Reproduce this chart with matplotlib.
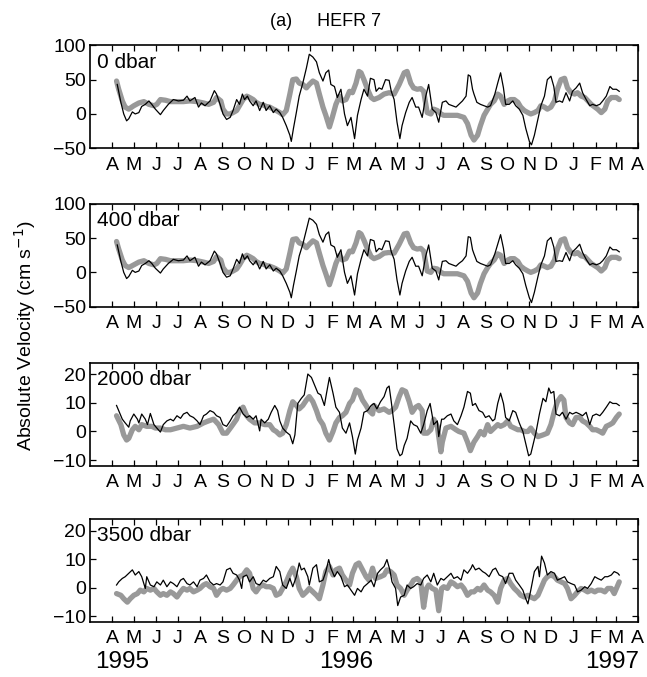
import matplotlib
matplotlib.use('Agg')
import matplotlib.pyplot as plt
import matplotlib.transforms as mtransforms
import numpy as np
import pandas as pd

plt.rcParams['font.family'] = ['Liberation Sans', 'DejaVu Sans']

# time origin of the record, samples given as (day since start, cm/s)
start = pd.Timestamp('1995-04-01')

black_0 = [(7, 43), (12, 17), (16, 0), (20, -10), (23, -7), (28, 3), (32, 0), (37, 2), (41, 11), (46, 14),
           (51, 19), (55, 14), (60, 7), (67, -1), (71, 5), (78, 14), (85, 21), (92, 19), (99, 20), (104, 26),
           (108, 19), (115, 24), (120, 10), (124, 16), (129, 12), (136, 19), (142, 34), (145, 29), (150, 14),
           (154, 0), (159, -8), (164, -5), (168, 5), (173, 21), (177, 14), (181, 29), (184, 21), (188, 26),
           (191, 19), (196, 12), (200, 19), (205, 5), (210, 17), (214, 5), (219, 12), (224, 2), (228, 7),
           (233, 2), (237, -5), (242, -17), (247, -31), (249, -40), (252, -21), (256, 2), (260, 26), (265, 45),
           (270, 67), (274, 87), (279, 83), (284, 76), (288, 60), (293, 48), (297, 60), (301, 64), (304, 43),
           (309, 40), (313, 24), (318, 36), (323, 0), (327, -17), (332, -5), (337, -36), (341, -2), (346, 21),
           (350, 36), (355, 26), (359, 52), (364, 50), (367, 33), (371, 38), (375, 36), (380, 50), (385, 49),
           (388, 33), (392, 21), (396, -12), (400, -36), (403, -17), (408, 2), (413, 17), (417, 24), (422, 10),
           (426, 10), (431, -5), (436, 26), (440, 43), (445, 7), (450, 2), (454, -12), (459, 17), (464, 19),
           (468, 14), (473, 12), (478, 10), (482, 14), (487, 19), (492, 26), (495, 57), (498, 55), (501, 36),
           (503, 29), (507, 17), (512, 14), (517, 12), (522, 10), (526, 12), (532, 29), (536, 45), (540, 60),
           (544, 38), (547, 14), (552, 14), (557, 19), (561, 12), (566, 7), (571, -2), (575, -21), (580, -40),
           (583, -45), (587, -31), (592, -7), (596, 12), (601, 26), (605, 50), (610, 55), (614, 40), (617, 17),
           (622, 19), (626, 17), (631, 31), (636, 19), (640, 33), (645, 38), (650, 45), (654, 31), (659, 21),
           (664, 12), (668, 14), (673, 12), (678, 14), (682, 19), (687, 26), (692, 40), (696, 36), (701, 36),
           (705, 33)]

gray_0 = [(6, 48), (9, 36), (14, 19), (18, 10), (23, 7), (30, 12), (37, 16), (44, 18), (51, 14), (58, 12),
          (62, 14), (67, 21), (74, 20), (81, 18), (90, 18), (99, 18), (108, 19), (118, 18), (127, 16), (134, 14),
          (141, 17), (145, 24), (151, 19), (154, 7), (159, 0), (164, 0), (168, 2), (173, 5), (177, 12), (182, 21),
          (187, 26), (191, 24), (196, 21), (200, 17), (205, 14), (210, 13), (214, 11), (219, 10), (224, 7),
          (228, 5), (233, 2), (237, -1), (242, 5), (247, 29), (251, 50), (256, 51), (260, 45), (265, 43),
          (270, 38), (274, 43), (279, 48), (284, 45), (288, 29), (293, 10), (297, -2), (302, -19), (306, -5),
          (311, 14), (316, 26), (320, 19), (325, 21), (330, 33), (334, 31), (339, 45), (343, 62), (346, 60),
          (350, 50), (355, 36), (360, 24), (364, 21), (371, 24), (378, 29), (385, 31), (392, 29), (399, 43),
          (406, 60), (410, 62), (415, 45), (419, 38), (424, 36), (429, 37), (433, 33), (438, 2), (443, 0),
          (447, 7), (452, 5), (457, 0), (461, -2), (471, -2), (480, -2), (489, -5), (494, -14), (499, -31),
          (503, -38), (508, -31), (512, -17), (517, -2), (522, 7), (526, 14), (531, 19), (536, 29), (540, 26),
          (545, 14), (550, 19), (554, 21), (559, 21), (564, 17), (568, 10), (573, 5), (578, 2), (582, 0),
          (587, 2), (592, 5), (596, 12), (601, 10), (605, 7), (610, 10), (615, 19), (619, 36), (624, 50),
          (629, 52), (633, 38), (638, 31), (643, 29), (647, 31), (652, 26), (657, 24), (666, 14), (675, 7),
          (680, 2), (685, 7), (689, 19), (694, 24), (701, 24), (705, 21)]

black_400 = [(7, 40), (12, 16), (16, 0), (20, -9), (23, -6), (28, 3), (32, 0), (37, 2), (41, 10), (46, 13),
             (51, 17), (55, 13), (60, 6), (67, -1), (71, 5), (78, 13), (85, 19), (92, 17), (99, 18), (104, 24),
             (108, 17), (115, 22), (120, 9), (124, 15), (129, 11), (136, 17), (142, 31), (145, 27), (150, 13),
             (154, 0), (159, -7), (164, -5), (168, 5), (173, 19), (177, 13), (181, 27), (184, 19), (188, 24),
             (191, 17), (196, 11), (200, 17), (205, 5), (210, 16), (214, 5), (219, 11), (224, 2), (228, 6),
             (233, 2), (237, -5), (242, -16), (247, -29), (249, -37), (252, -19), (256, 2), (260, 24), (265, 41),
             (270, 62), (274, 79), (279, 76), (284, 70), (288, 55), (293, 44), (297, 55), (301, 59), (304, 40),
             (309, 37), (313, 22), (318, 33), (323, 0), (327, -16), (332, -5), (337, -33), (341, -2), (346, 19),
             (350, 33), (355, 24), (359, 48), (364, 46), (367, 30), (371, 35), (375, 33), (380, 46), (385, 45),
             (388, 30), (392, 19), (396, -11), (400, -33), (403, -16), (408, 2), (413, 16), (417, 22), (422, 9),
             (426, 9), (431, -5), (436, 24), (440, 40), (445, 6), (450, 2), (454, -11), (459, 16), (464, 17),
             (468, 13), (473, 11), (478, 9), (482, 13), (487, 17), (492, 24), (495, 52), (498, 51), (501, 33),
             (503, 27), (507, 16), (512, 13), (517, 11), (522, 9), (526, 11), (532, 27), (536, 41), (540, 55),
             (544, 35), (547, 13), (552, 13), (557, 17), (561, 11), (566, 6), (571, -2), (575, -19), (580, -37),
             (583, -44), (587, -29), (592, -6), (596, 11), (601, 24), (605, 46), (610, 51), (614, 37), (617, 16),
             (622, 17), (626, 16), (631, 29), (636, 17), (640, 30), (645, 35), (650, 41), (654, 29), (659, 19),
             (664, 11), (668, 13), (673, 11), (678, 13), (682, 17), (687, 24), (692, 37), (696, 33), (701, 33),
             (705, 30)]

gray_400 = [(6, 45), (9, 34), (14, 18), (18, 10), (23, 7), (30, 11), (37, 15), (44, 17), (51, 13), (58, 11),
            (62, 13), (67, 20), (74, 19), (81, 17), (90, 17), (99, 17), (108, 18), (118, 17), (127, 15), (134, 13),
            (141, 16), (145, 23), (151, 18), (154, 7), (159, 0), (164, 0), (168, 2), (173, 5), (177, 11), (182, 20),
            (187, 25), (191, 23), (196, 20), (200, 16), (205, 13), (210, 12), (214, 10), (219, 9), (224, 7),
            (228, 5), (233, 2), (237, -1), (242, 5), (247, 28), (251, 48), (256, 49), (260, 43), (265, 41),
            (270, 36), (274, 41), (279, 46), (284, 43), (288, 28), (293, 10), (297, -2), (302, -18), (306, -5),
            (311, 13), (316, 25), (320, 18), (325, 20), (330, 31), (334, 30), (339, 43), (343, 58), (346, 56),
            (350, 47), (355, 34), (360, 23), (364, 20), (371, 23), (378, 28), (385, 29), (392, 28), (399, 41),
            (406, 56), (410, 57), (415, 43), (419, 36), (424, 34), (429, 35), (433, 31), (438, 2), (443, 0),
            (447, 6), (452, 5), (457, 0), (461, -2), (471, -2), (480, -2), (489, -5), (494, -13), (499, -30),
            (503, -37), (508, -30), (512, -16), (517, -2), (522, 7), (526, 13), (531, 18), (536, 27), (540, 25),
            (545, 13), (550, 18), (554, 20), (559, 20), (564, 16), (568, 9), (573, 5), (578, 2), (582, 0),
            (587, 2), (592, 5), (596, 11), (601, 9), (605, 7), (610, 9), (615, 18), (619, 34), (624, 47),
            (629, 49), (633, 36), (638, 29), (643, 27), (647, 29), (652, 24), (657, 23), (666, 13), (675, 7),
            (680, 2), (685, 7), (689, 18), (694, 22), (701, 22), (705, 20)]

black_2000 = [(6, 9.1), (9, 7.3), (14, 4.3), (18, 3.0), (23, 1.5), (25, 3.7), (30, 6.1), (35, 4.3), (37, 3.0),
              (41, 6.1), (46, 4.3), (49, 2.4), (53, 6.3), (58, 2.4), (62, 1.2), (67, -0.2), (71, 2.4), (76, 3.7),
              (81, 4.3), (85, 3.7), (90, 5.5), (95, 4.6), (99, 6.1), (104, 6.7), (108, 5.5), (113, 4.9),
              (118, 3.7), (122, 2.4), (127, 5.5), (131, 6.1), (136, 7.3), (141, 6.7), (145, 5.5), (150, 4.9),
              (154, 2.4), (159, 1.8), (164, 3.7), (168, 5.5), (173, 6.7), (177, 8.5), (182, 6.1), (187, 4.9),
              (191, 5.5), (196, 4.3), (200, 5.5), (205, 0.2), (207, 4.3), (212, 3.0), (217, 4.3), (221, 6.7),
              (226, 9.1), (230, 7.3), (233, 3.7), (237, 1.2), (242, -0.2), (247, -1.2), (251, -4.3), (254, -1.2),
              (258, 9.8), (263, 11.6), (267, 12.8), (272, 20.1), (277, 18.9), (281, 16.5), (286, 13.4),
              (290, 12.8), (295, 9.1), (298, 13.4), (302, 18.9), (307, 13.4), (311, 8.5), (316, 6.7), (320, 1.2),
              (325, -0.6), (330, 3.0), (334, -1.8), (338, -7.9), (341, -3.0), (346, 1.2), (350, 6.7), (355, 7.3),
              (360, 9.1), (364, 9.8), (368, 7.9), (373, 10.4), (378, 12.2), (382, 15.2), (385, 15.9),
              (388, 10.4), (392, 2.4), (396, -6.1), (400, -8.5), (403, -7.9), (406, -4.9), (410, -2.4),
              (415, 3.7), (419, 2.4), (424, 1.8), (429, -0.6), (433, 2.4), (438, 7.3), (442, 9.8), (445, 5.5),
              (447, 2.4), (452, 3.7), (454, -1.8), (458, 4.3), (461, 4.3), (466, 5.5), (471, 6.1), (475, 3.7),
              (480, 2.4), (485, 5.5), (489, 8.5), (494, 14.0), (498, 13.4), (501, 9.1), (505, 9.8), (510, 7.3),
              (515, 6.7), (519, 4.9), (524, 5.5), (529, 3.7), (532, 4.3), (536, 9.8), (540, 13.4), (544, 9.8),
              (547, 4.9), (552, 3.7), (557, 7.3), (561, 6.7), (566, 3.0), (571, 0.0), (575, -4.3), (579, -8.5),
              (582, -7.9), (586, -3.7), (589, -0.6), (594, 6.1), (599, 11.6), (603, 10.4), (607, 15.2),
              (610, 13.4), (614, 14.0), (617, 6.1), (622, 5.5), (626, 6.7), (631, 4.3), (636, 6.7), (640, 6.1),
              (645, 6.7), (650, 6.1), (654, 5.5), (659, 6.7), (664, 2.4), (668, 5.5), (673, 6.1), (678, 5.5),
              (682, 6.7), (687, 8.5), (692, 10.4), (696, 9.8), (701, 9.8), (705, 9.1)]

gray_2000 = [(6, 5.5), (12, 2.4), (16, -1.2), (20, -3.0), (23, -2.4), (28, 0.6), (32, 1.8), (37, 0.6), (41, 2.4),
             (48, 1.8), (55, 1.8), (60, 1.2), (67, 1.2), (74, 0.6), (81, 0.6), (90, 1.2), (99, 1.8), (108, 1.2),
             (118, 1.8), (127, 3.0), (134, 3.7), (141, 4.3), (148, 2.4), (154, -0.6), (159, -0.6), (166, 1.8),
             (173, 4.3), (177, 7.3), (182, 8.5), (187, 5.5), (191, 4.3), (198, 3.0), (205, 3.0), (212, 2.4),
             (219, 2.4), (224, 0.6), (228, 0.0), (233, -1.2), (237, -0.6), (242, 2.4), (247, 7.3), (251, 10.4),
             (256, 9.1), (260, 7.9), (265, 9.1), (270, 11.0), (274, 12.2), (279, 10.4), (284, 7.3), (288, 4.3),
             (293, 2.4), (297, -0.6), (302, -3.0), (307, 0.0), (311, 3.0), (316, 4.9), (320, 5.5), (325, 6.7),
             (330, 9.8), (334, 11.0), (339, 14.6), (343, 14.0), (348, 11.0), (353, 9.1), (357, 7.3), (362, 6.1),
             (364, 9.1), (371, 7.3), (378, 7.9), (385, 6.7), (389, 7.3), (394, 8.5), (399, 12.2), (403, 14.6),
             (408, 14.0), (413, 10.4), (417, 6.7), (422, 8.5), (426, 9.1), (431, 7.3), (433, -0.6), (438, -0.6),
             (443, 0.6), (447, 4.3), (452, 1.8), (457, -7.1), (459, -3.7), (464, 1.2), (471, 1.8), (478, 0.6),
             (482, 0.0), (489, -0.6), (494, -3.7), (498, -6.7), (503, -3.7), (508, -1.8), (512, 0.0), (517, -1.2),
             (522, 2.4), (526, 0.0), (531, 1.2), (536, 2.4), (540, 1.8), (545, 2.4), (550, 3.7), (554, 1.8),
             (559, 1.2), (564, 0.6), (568, 0.6), (573, 0.0), (578, 0.0), (582, 1.2), (587, -0.6), (592, -1.8),
             (599, -1.2), (605, -0.6), (610, 2.4), (615, 7.3), (619, 10.4), (624, 12.2), (628, 11.0), (631, 4.9),
             (636, 3.0), (640, 2.4), (645, 4.9), (650, 4.9), (654, 3.7), (659, 3.0), (664, 1.8), (668, 0.6),
             (673, 0.6), (678, 0.0), (682, -0.6), (687, 1.8), (692, 2.4), (696, 3.0), (701, 4.9), (705, 6.1)]

black_3500 = [(6, 1.0), (9, 2.1), (14, 3.3), (18, 3.9), (23, 5.1), (28, 6.3), (32, 4.5), (37, 5.7), (41, 3.9),
              (46, -0.2), (48, 3.9), (53, 1.0), (58, 0.4), (62, 2.1), (67, 1.0), (71, 2.7), (76, 0.4), (81, 2.1),
              (85, 1.5), (90, 0.4), (95, 2.7), (99, 3.3), (104, 1.5), (108, 1.0), (113, 2.1), (118, 0.4),
              (122, 2.7), (127, 3.3), (131, 4.5), (136, 2.1), (141, 1.0), (145, 1.5), (150, 1.0), (154, 2.1),
              (159, 6.3), (164, 6.9), (168, 5.1), (173, 4.5), (177, 2.7), (180, -0.2), (182, 3.9), (187, 4.5),
              (191, 2.1), (196, 3.9), (200, 1.5), (205, 1.0), (210, 2.7), (214, 2.1), (219, 3.3), (224, 3.9),
              (228, 7.5), (233, 5.7), (237, 1.0), (242, -0.2), (247, 3.3), (251, 0.4), (256, 3.9), (260, 8.7),
              (263, 6.3), (267, 6.9), (272, 3.9), (274, 1.0), (279, 6.9), (284, 8.1), (288, 2.1), (293, 2.7),
              (297, 5.7), (301, 9.9), (304, 6.9), (309, 3.9), (313, 5.7), (318, 3.9), (323, 0.4), (327, 1.0),
              (332, -0.8), (337, -2.6), (341, -0.2), (346, -1.4), (350, 0.4), (355, 1.5), (360, 2.7), (364, 0.4),
              (369, 5.1), (373, 6.3), (378, 7.5), (382, 9.9), (386, 6.3), (389, 2.1), (394, -0.2), (397, -6.2),
              (401, -3.2), (406, -2.6), (410, 1.0), (415, -0.2), (419, 0.4), (424, 1.5), (429, 1.0), (433, 3.3),
              (438, 4.5), (443, 2.1), (447, 5.1), (452, 1.0), (457, 3.3), (461, 2.7), (466, 3.9), (471, 5.1),
              (475, 3.3), (480, 3.9), (485, 2.7), (489, 6.3), (494, 5.1), (499, 6.9), (501, 8.1), (505, 6.3),
              (510, 6.9), (515, 5.7), (519, 5.1), (524, 3.9), (529, 6.3), (533, 6.9), (538, 4.5), (543, 3.9),
              (547, 1.5), (552, 5.1), (557, 5.1), (561, 2.7), (566, 1.0), (571, -0.8), (575, -3.8), (578, -5.6),
              (582, -0.8), (587, 5.7), (592, 7.5), (594, 3.9), (597, 11.1), (601, 8.7), (605, 4.5), (610, 5.7),
              (615, 5.1), (619, 2.7), (624, 3.3), (629, 3.9), (633, 2.1), (638, 1.5), (643, 1.0), (647, -1.4),
              (652, -0.8), (657, 0.4), (661, -0.2), (666, 1.5), (671, 3.9), (675, 3.3), (680, 2.7), (685, 3.9),
              (689, 3.9), (694, 4.5), (698, 5.7), (703, 5.1), (705, 4.5)]

gray_3500 = [(6, -2.0), (12, -2.6), (16, -3.8), (21, -5.0), (25, -3.8), (30, -2.6), (35, -2.0), (39, -0.8),
             (44, -1.4), (48, -0.2), (53, -0.8), (58, -0.2), (62, -1.4), (67, -2.6), (71, -2.0), (76, -2.6),
             (81, -1.4), (85, -2.0), (90, -3.2), (95, -1.4), (99, -0.2), (104, -0.8), (108, -0.2), (113, -1.4),
             (118, -0.8), (122, -0.2), (127, 1.0), (131, 1.5), (136, 0.4), (141, -0.2), (145, -2.6), (150, -0.8),
             (154, -0.2), (159, -0.8), (164, -0.2), (168, 1.0), (173, 2.7), (177, 3.9), (182, 4.5), (187, 6.3),
             (191, 5.1), (196, -0.2), (200, -1.4), (205, 0.4), (210, 1.0), (214, 0.4), (219, 0.4), (224, -0.2),
             (228, -2.6), (233, -2.0), (237, -0.2), (242, 2.1), (247, 5.1), (251, 6.9), (256, 3.9), (260, -0.2),
             (265, -2.6), (270, -1.4), (274, -0.2), (279, -1.4), (284, -2.6), (288, -3.8), (293, 1.0), (297, 5.7),
             (302, 7.5), (307, 4.5), (311, 6.3), (316, 6.9), (320, 4.5), (325, 2.7), (330, 1.0), (334, 5.1),
             (339, 8.1), (343, 8.7), (348, 6.3), (353, 3.9), (357, 2.7), (362, 6.9), (366, 3.3), (373, 3.9),
             (378, 4.5), (382, 6.3), (387, 5.7), (392, 4.5), (396, 1.0), (401, -0.2), (406, -2.6), (410, -0.8),
             (415, 1.0), (419, 2.7), (424, 3.3), (429, 2.1), (433, -6.8), (437, -0.2), (440, 1.0), (445, -0.2),
             (450, -0.8), (454, -8.0), (458, -0.2), (461, 0.4), (466, -0.2), (471, 2.1), (475, 1.5), (480, 0.4),
             (485, 1.0), (489, -0.2), (494, -2.6), (499, -1.4), (503, -1.4), (508, -0.2), (512, -0.8), (517, 1.0),
             (522, -0.8), (526, -1.4), (531, -2.6), (536, -5.0), (540, -0.2), (545, 2.7), (550, 3.3), (554, 1.5),
             (559, -0.2), (564, -1.4), (568, -2.6), (573, -3.2), (578, -2.6), (582, -3.2), (587, -3.8),
             (592, -2.6), (596, -0.2), (601, 2.7), (605, 3.9), (610, 4.5), (615, 3.9), (619, 2.7), (624, 2.1),
             (629, 1.5), (633, -0.2), (638, -3.8), (643, -2.6), (647, -1.4), (652, -0.2), (657, -0.8),
             (661, -1.4), (666, -0.8), (671, -1.4), (675, -0.8), (680, -0.8), (685, -1.4), (689, -0.2),
             (694, -0.2), (698, -2.0), (703, 1.0), (705, 2.1)]

depth_labels = ['0 dbar', '400 dbar', '2000 dbar', '3500 dbar']
panels = [(black_0, gray_0), (black_400, gray_400), (black_2000, gray_2000), (black_3500, gray_3500)]
ylims = [(-50, 100), (-50, 100), (-12, 24), (-12, 24)]
yticks = [[-50, 0, 50, 100], [-50, 0, 50, 100], [-10, 0, 10, 20], [-10, 0, 10, 20]]
month_letters = ['A', 'M', 'J', 'J', 'A', 'S', 'O', 'N', 'D', 'J', 'F', 'M'] * 2 + ['A']
years = [('1995', '1995-04-15'), ('1996', '1996-02-20'), ('1997', '1997-02-24')]

fig = plt.figure(figsize=(6.47, 6.77), dpi=100)

# axes boxes in figure fractions (left, bottom, width, height)
boxes = [(0.139, 0.781, 0.847, 0.152),
         (0.139, 0.547, 0.847, 0.152),
         (0.139, 0.312, 0.847, 0.152),
         (0.139, 0.081, 0.847, 0.152)]

month_ticks = pd.date_range('1995-04-01', '1997-04-01', freq='MS')


def to_dates(pairs):
    days, vals = zip(*pairs)
    return start + pd.to_timedelta(np.array(days), unit='D'), np.array(vals)


axes = []
for i, (box, (blk, gry)) in enumerate(zip(boxes, panels)):
    ax = fig.add_axes(box)
    tg, vg = to_dates(gry)
    tb, vb = to_dates(blk)
    ax.plot(tg, vg, color='#999999', lw=3.8, solid_joinstyle='round', solid_capstyle='round')
    ax.plot(tb, vb, color='black', lw=0.9)
    ax.set_xlim(pd.Timestamp('1995-03-01'), pd.Timestamp('1997-04-01'))
    ax.set_ylim(*ylims[i])
    ax.set_yticks(yticks[i])
    ax.set_xticks(month_ticks)
    ax.set_xticklabels(month_letters)
    ax.tick_params(direction='in', length=4, width=0.9, top=True, right=True, labelsize=14)
    ax.tick_params(axis='x', pad=6)
    ax.tick_params(axis='y', pad=3)
    for s in ax.spines.values():
        s.set_linewidth(1.2)
    ax.text(0.012, 0.93, depth_labels[i], transform=ax.transAxes, va='top', ha='left',
            fontsize=15)
    axes.append(ax)

trans = mtransforms.blended_transform_factory(axes[3].transData, axes[3].transAxes)
for label, when in years:
    axes[3].text(pd.Timestamp(when), -0.39, label, transform=trans, ha='center', va='center',
                 fontsize=17.5)

fig.text(0.503, 0.968, '(a)     HEFR 7', ha='center', va='center', fontsize=13)
fig.text(0.038, 0.505, 'Absolute Velocity (cm s$^{-1}$)', rotation=90, ha='center', va='center',
         fontsize=14)

fig.savefig('out.png', dpi=100)
